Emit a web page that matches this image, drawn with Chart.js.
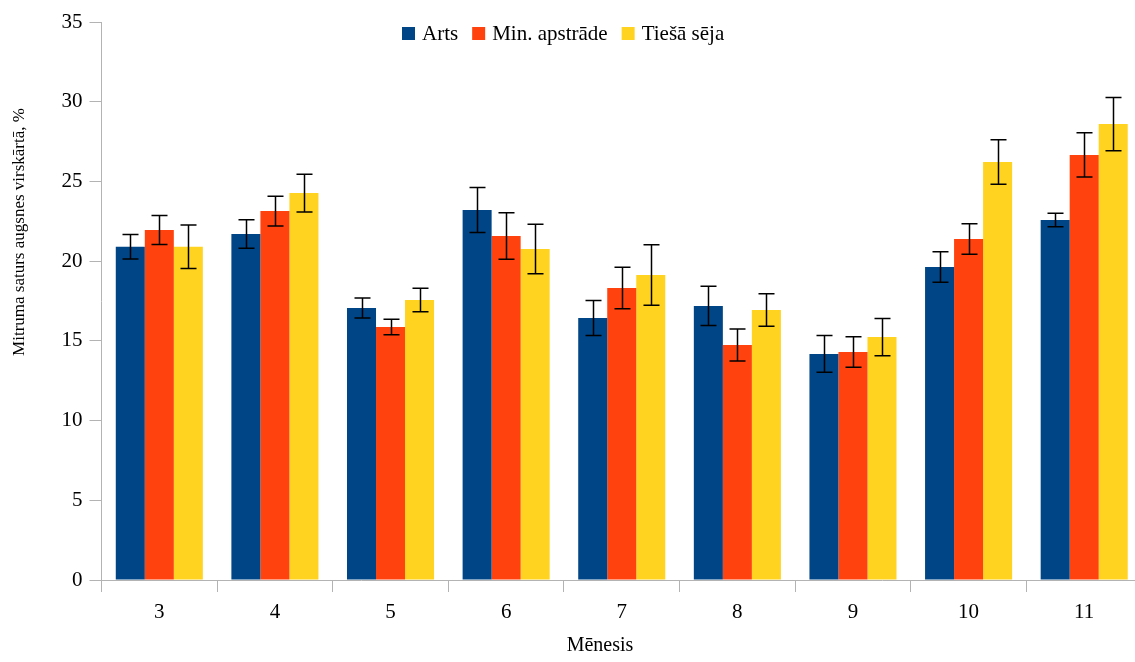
<!DOCTYPE html>
<html>
<head>
<meta charset="utf-8">
<script src="https://cdn.jsdelivr.net/npm/chart.js@4/dist/chart.umd.min.js"></script>
<style>
  html, body { margin: 0; padding: 0; background: #fff; overflow: hidden; }
  #wrap { width: 1142px; height: 662px; }
</style>
</head>
<body>
<div id="wrap"><canvas id="c" width="1142" height="662"></canvas></div>
<script>
const months = ['3', '4', '5', '6', '7', '8', '9', '10', '11'];
const seriesNames = ['Arts', 'Min. apstrāde', 'Tiešā sēja'];
const arts      = [20.90, 21.70, 17.06, 23.21, 16.43, 17.19, 14.18, 19.63, 22.58];
const artsErr   = [0.77, 0.89, 0.63, 1.41, 1.10, 1.23, 1.15, 0.96, 0.43];
const minAp     = [21.95, 23.14, 15.87, 21.58, 18.32, 14.74, 14.30, 21.39, 26.66];
const minApErr  = [0.91, 0.93, 0.48, 1.46, 1.30, 1.00, 0.95, 0.96, 1.39];
const tiesa     = [20.90, 24.27, 17.56, 20.76, 19.13, 16.94, 15.24, 26.22, 28.60];
const tiesaErr  = [1.36, 1.18, 0.74, 1.55, 1.90, 1.02, 1.17, 1.39, 1.67];
const yTicks = [0, 5, 10, 15, 20, 25, 30, 35];
const yTitle = 'Mitruma saturs augsnes virskārtā, %';
const xTitle = 'Mēnesis';

const colors = ['#004586', '#ff420e', '#ffd320'];
const FONT = '"Liberation Serif", "Times New Roman", serif';
const axisColor = '#b3b3b3';

const errorBars = {
  id: 'errorBars',
  afterDatasetsDraw(chart) {
    const ctx = chart.ctx;
    const yScale = chart.scales.y;
    ctx.save();
    ctx.strokeStyle = '#000';
    ctx.lineWidth = 1.5;
    chart.data.datasets.forEach((ds, i) => {
      const meta = chart.getDatasetMeta(i);
      meta.data.forEach((el, j) => {
        const v = ds.data[j], e = ds.errors[j];
        const yT = yScale.getPixelForValue(v + e);
        const yB = yScale.getPixelForValue(v - e);
        const x = Math.round(el.x) + 0.5;
        ctx.beginPath();
        ctx.moveTo(x, yT); ctx.lineTo(x, yB);
        ctx.moveTo(x - 8, yT); ctx.lineTo(x + 8, yT);
        ctx.moveTo(x - 8, yB); ctx.lineTo(x + 8, yB);
        ctx.stroke();
      });
    });
    ctx.restore();
  }
};

const axisTitles = {
  id: 'axisTitles',
  afterDraw(chart) {
    const ctx = chart.ctx;
    ctx.save();
    ctx.fillStyle = '#000';
    ctx.textAlign = 'center';
    ctx.textBaseline = 'alphabetic';
    ctx.font = '20px ' + FONT;
    ctx.fillText(xTitle, 600, 651);
    ctx.font = '17px ' + FONT;
    ctx.translate(24, 232);
    ctx.rotate(-Math.PI / 2);
    ctx.fillText(yTitle, 0, 0);
    ctx.restore();
  }
};

const customLegend = {
  id: 'customLegend',
  afterDraw(chart) {
    const ctx = chart.ctx;
    ctx.save();
    ctx.font = '21px ' + FONT;
    ctx.textAlign = 'left';
    ctx.textBaseline = 'alphabetic';
    let x = 402;
    chart.data.datasets.forEach((ds) => {
      ctx.fillStyle = ds.backgroundColor;
      ctx.fillRect(x, 27, 13, 13);
      ctx.fillStyle = '#000';
      ctx.fillText(ds.label, x + 20, 40);
      x += 20 + ctx.measureText(ds.label).width + 14;
    });
    ctx.restore();
  }
};

new Chart(document.getElementById('c'), {
  type: 'bar',
  data: {
    labels: months,
    datasets: [
      { label: seriesNames[0], data: arts, errors: artsErr, backgroundColor: colors[0], borderWidth: 0 },
      { label: seriesNames[1], data: minAp, errors: minApErr, backgroundColor: colors[1], borderWidth: 0 },
      { label: seriesNames[2], data: tiesa, errors: tiesaErr, backgroundColor: colors[2], borderWidth: 0 }
    ]
  },
  options: {
    responsive: false,
    animation: false,
    layout: { padding: { top: 22, left: 0, right: 0, bottom: 0 } },
    datasets: { bar: { categoryPercentage: 0.753, barPercentage: 1.0 } },
    plugins: {
      legend: { display: false },
      tooltip: { enabled: false },
      title: { display: false }
    },
    scales: {
      x: {
        offset: true,
        grid: { display: true, offset: true, drawOnChartArea: false, drawTicks: true, tickLength: 12, color: axisColor },
        border: { display: true, color: axisColor, width: 1 },
        ticks: { font: { family: FONT, size: 21 }, color: '#000', padding: 8 },
        afterFit(s) { s.height = 82; }
      },
      y: {
        min: 0,
        max: 35,
        afterBuildTicks(s) { s.ticks = yTicks.map(v => ({ value: v })); },
        grid: { display: true, drawOnChartArea: false, drawTicks: true, tickLength: 12, color: axisColor },
        border: { display: true, color: axisColor, width: 1 },
        ticks: { font: { family: FONT, size: 21 }, color: '#000', padding: 7 },
        afterFit(s) { s.width = 101.5; }
      }
    }
  },
  plugins: [errorBars, axisTitles, customLegend]
});
</script>
</body>
</html>
